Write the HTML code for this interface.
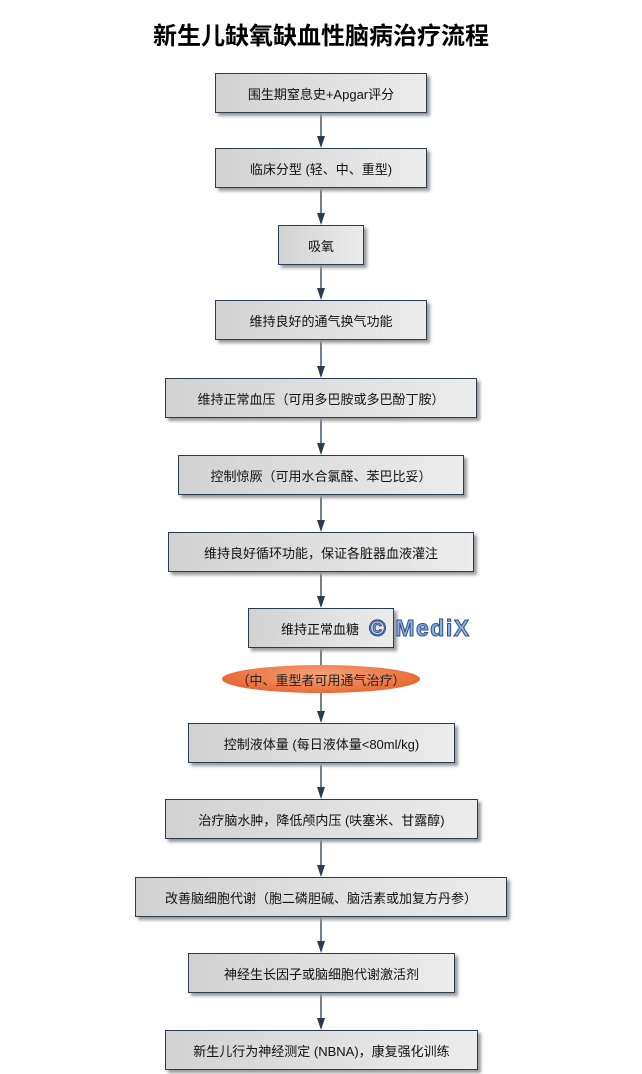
<!DOCTYPE html>
<html><head><meta charset="utf-8"><style>
body{margin:0;width:642px;height:1074px;background:#fff;position:relative;font-family:"Liberation Sans","Noto Sans CJK SC",sans-serif;overflow:hidden}
.t{position:absolute;top:16px;left:0;width:642px;text-align:center;font-size:24px;font-weight:bold;color:#000}
.b{position:absolute;box-sizing:border-box;border:1px solid #2b3b52;background:linear-gradient(90deg,#d2d2d2,#ececec);box-shadow:3px 3px 3px #9a9a9a;display:flex;align-items:center;justify-content:center;font-size:13px;color:#111;white-space:nowrap}
.e{position:absolute;left:222px;top:665px;width:198px;height:28px;border-radius:50%;background:radial-gradient(ellipse at 50% 35%,#f7a47c,#e2541c);display:flex;align-items:center;justify-content:center;font-size:13px;color:#222}
svg{position:absolute;left:0;top:0}
.m{position:absolute;left:369px;top:615px;font-size:23px;font-weight:bold;color:#8fb1dd;-webkit-text-stroke:1px #2e4f8a;letter-spacing:1.5px}
</style></head><body>
<div class="t">新生儿缺氧缺血性脑病治疗流程</div>
<svg width="642" height="1074">
<g stroke="#2b3b52" stroke-width="1.3">
<line x1="321" y1="113" x2="321" y2="146"/><line x1="321" y1="188" x2="321" y2="223"/>
<line x1="321" y1="265" x2="321" y2="298"/><line x1="321" y1="340" x2="321" y2="376"/>
<line x1="321" y1="418" x2="321" y2="453"/><line x1="321" y1="495" x2="321" y2="530"/>
<line x1="321" y1="572" x2="321" y2="606"/><line x1="321" y1="648" x2="321" y2="721"/>
<line x1="321" y1="763" x2="321" y2="797"/><line x1="321" y1="839" x2="321" y2="875"/>
<line x1="321" y1="917" x2="321" y2="951"/><line x1="321" y1="993" x2="321" y2="1028"/>
</g>
<g fill="#2b3b52">
<polygon points="317,136 325,136 321,148"/><polygon points="317,213 325,213 321,225"/>
<polygon points="317,288 325,288 321,300"/><polygon points="317,366 325,366 321,378"/>
<polygon points="317,443 325,443 321,455"/><polygon points="317,520 325,520 321,532"/>
<polygon points="317,596 325,596 321,608"/><polygon points="317,711 325,711 321,723"/>
<polygon points="317,787 325,787 321,799"/><polygon points="317,865 325,865 321,877"/>
<polygon points="317,941 325,941 321,953"/><polygon points="317,1018 325,1018 321,1030"/>
</g></svg>
<div class="b" style="left:215px;top:73px;width:212px;height:40px">围生期窒息史+Apgar评分</div>
<div class="b" style="left:215px;top:148px;width:212px;height:40px">临床分型 (轻、中、重型)</div>
<div class="b" style="left:278px;top:225px;width:86px;height:40px">吸氧</div>
<div class="b" style="left:215px;top:300px;width:212px;height:40px">维持良好的通气换气功能</div>
<div class="b" style="left:165px;top:378px;width:312px;height:40px">维持正常血压（可用多巴胺或多巴酚丁胺）</div>
<div class="b" style="left:178px;top:455px;width:286px;height:40px">控制惊厥（可用水合氯醛、苯巴比妥）</div>
<div class="b" style="left:168px;top:532px;width:306px;height:40px">维持良好循环功能，保证各脏器血液灌注</div>
<div class="b" style="left:248px;top:608px;width:146px;height:40px;justify-content:flex-start;padding-left:32px">维持正常血糖</div>
<div class="m">© MediX</div>
<div class="e">（中、重型者可用通气治疗）</div>
<div class="b" style="left:188px;top:723px;width:267px;height:40px">控制液体量 (每日液体量&lt;80ml/kg)</div>
<div class="b" style="left:165px;top:799px;width:313px;height:40px">治疗脑水肿，降低颅内压 (呋塞米、甘露醇)</div>
<div class="b" style="left:135px;top:877px;width:372px;height:40px">改善脑细胞代谢（胞二磷胆碱、脑活素或加复方丹参）</div>
<div class="b" style="left:188px;top:953px;width:267px;height:40px">神经生长因子或脑细胞代谢激活剂</div>
<div class="b" style="left:165px;top:1030px;width:313px;height:40px">新生儿行为神经测定 (NBNA)，康复强化训练</div>
</body></html>
